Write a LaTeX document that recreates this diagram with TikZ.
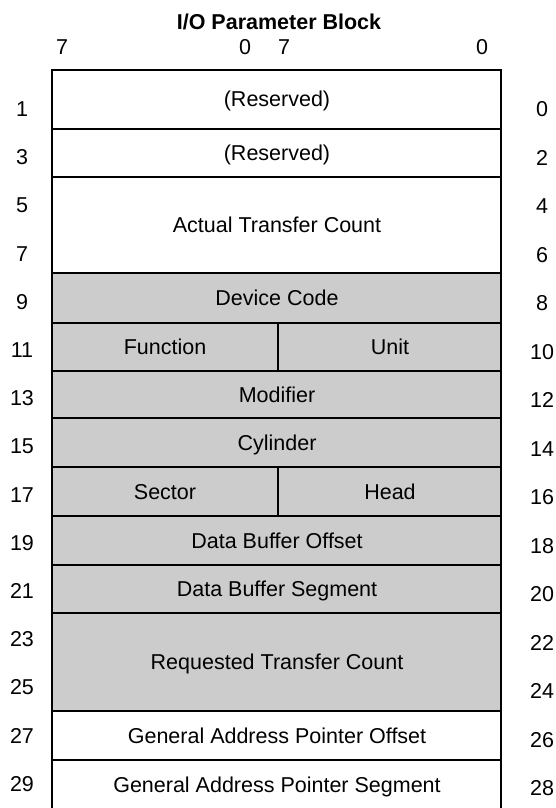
\documentclass[tikz,border=0pt]{standalone}
\usepackage{fontspec}
\setmainfont{Liberation Sans}
\usetikzlibrary{positioning}

\begin{document}
\begin{tikzpicture}[x=1pt, y=-1pt,
    txt/.style={font=\fontsize{21.5}{25}\selectfont, text height=15pt, text depth=0pt, inner sep=0pt},
    ttl/.style={font=\bfseries\fontsize{21.5}{25}\selectfont, inner sep=0pt},
    shaded/.style={fill=black!20},
    rule/.style={line width=2pt}]
    \useasboundingbox (0,0) rectangle (555,808);
    % Layer 1: shaded fields (Device Code ... Requested Transfer Count)
    \fill[shaded] (52,273) rectangle (501,711);
    % Layer 2: frame and field rules (bottom left open)
    \draw[rule] (52,808) -- (52,70) -- (501,70) -- (501,808);
    \foreach \y in {129,177,273,323,371,418,467,516,565,613,711,760}
        \draw[rule] (52,\y) -- (501,\y);
    \draw[rule] (278,323) -- (278,371);
    \draw[rule] (278,467) -- (278,516);
    % title and bit numbers
    \node[ttl] (title) at (279,22) {I/O Parameter Block};
    \node[txt] (hiseven) at (62,47) {7};
    \node[txt] (hizero) at (245,47) {0};
    \node[txt] (loseven) at (284,47) {7};
    \node[txt] (lozero) at (482,47) {0};
    % byte offsets, odd on the left, even on the right
    \foreach \i in {0,...,14} {
        \pgfmathtruncatemacro{\odd}{2*\i+1}
        \pgfmathtruncatemacro{\even}{2*\i}
        \node[txt] (odd\i) at (22,{109+48.2*\i}) {\odd};
        \node[txt] (even\i) at (542,{109+48.5*\i}) {\even};
    }
    % field names
    \node[txt] (resone) at (277,99) {(Reserved)};
    \node[txt] (restwo) at (277,153) {(Reserved)};
    \node[txt] (atc) at (277,225) {Actual Transfer Count};
    \node[txt] (dev) at (277,298) {Device Code};
    \node[txt] (func) at (165,347) {Function};
    \node[txt] (unit) at (390,347) {Unit};
    \node[txt] (modf) at (277,395) {Modifier};
    \node[txt] (cyl) at (277,443) {Cylinder};
    \node[txt] (sect) at (165,492) {Sector};
    \node[txt] (head) at (390,492) {Head};
    \node[txt] (dbo) at (277,541) {Data Buffer Offset};
    \node[txt] (dbs) at (277,589) {Data Buffer Segment};
    \node[txt] (rtc) at (277,662) {Requested Transfer Count};
    \node[txt] (gapo) at (277,736) {General Address Pointer Offset};
    \node[txt] (gaps) at (277,785) {General Address Pointer Segment};
\end{tikzpicture}
\end{document}
